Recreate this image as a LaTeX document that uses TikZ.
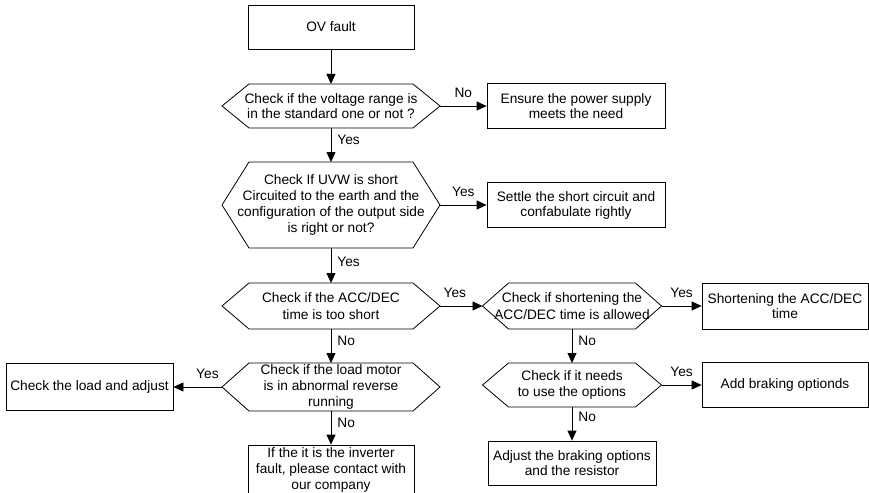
\documentclass[tikz,border=0pt]{standalone}
\usepackage{fontspec}
\setmainfont{Liberation Sans}
\usetikzlibrary{arrows.meta, calc, positioning}
% hexagon round a text node: node, half width, half height, tip depth
\newcommand{\hexa}[4]{%
  \draw[hexline] ($(#1.center)+(-#2,-#3)$) -- ++(2*#2,0) -- ++(#4,#3) coordinate (#1-r)
    -- ++(-#4,#3) -- ++(-2*#2,0) -- ++(-#4,-#3) coordinate (#1-l) -- cycle;
  \coordinate (#1-t) at ($(#1.center)+(0,-#3)$);
  \coordinate (#1-b) at ($(#1.center)+(0,#3)$);
}

\begin{document}
\begin{tikzpicture}[
    x=1pt, y=-1pt,
    every node/.style={font=\fontsize{13.7}{15}\selectfont},
    tall/.style={font=\fontsize{13.7}{16.2}\selectfont},
    box/.style={draw, line width=0.8pt, minimum width=166pt, minimum height=45pt,
                inner sep=2pt, align=center},
    ques/.style={inner sep=0pt, align=center},
    hexline/.style={line width=0.8pt},
    lbl/.style={inner sep=2pt},
    arr/.style={-{Triangle[length=10pt,width=9pt]}, line width=0.8pt},
]
    \useasboundingbox (0,0) rectangle (869,492);

    % main column
    \node[box, minimum height=44pt] (ov) at (331, 27) {OV fault};
    \node[ques] (q1) at (331, 106) {Check if the voltage range is\\in the standard one or not ?};
    \hexa{q1}{82}{22}{27}
    \node[ques, tall] (q2) at (331, 205) {Check If UVW is short\\Circuited to the earth and the\\configuration of the output side\\is right or not?};
    \hexa{q2}{82}{43}{27}
    \node[ques, tall] (q3) at (331, 306) {Check if the ACC/DEC\\time is too short};
    \hexa{q3}{82}{23}{27}
    \node[ques, tall] (q5) at (331, 387) {Check if the load motor\\is in abnormal reverse\\running};
    \hexa{q5}{82}{24}{27}
    \node[box, tall, inner sep=0pt, minimum height=50pt] (contact) at (331, 470) {If the it is the inverter\\fault, please contact with\\our company};

    % right branches
    \node[box, minimum width=178pt] (ensure) at (576, 106) {Ensure the power supply\\meets the need};
    \node[box, minimum width=178pt] (settle) at (576, 205) {Settle the short circuit and\\confabulate rightly};
    \node[ques, tall] (q4) at (572, 306) {Check if shortening the\\ACC/DEC time is allowed};
    \hexa{q4}{63.5}{23}{26}
    \node[ques, tall] (q6) at (572, 385) {Check if it needs\\to use the options};
    \hexa{q6}{63.5}{22}{26}
    \node[box, minimum width=168pt, minimum height=44pt] (resist) at (572, 463) {Adjust the braking options\\and the resistor};
    \node[box, minimum height=46pt] (shorten) at (785, 306) {Shortening the ACC/DEC\\time};
    \node[box] (brake) at (785, 385) {Add braking optionds};

    % left branch
    \node[box, minimum width=167pt, minimum height=47pt] (loadadj) at (89.5, 387) {Check the load and adjust};

    % connectors
    \draw[arr] (ov.south) -- (q1-t);
    \draw[arr] (q1-r) -- node[lbl, above=6pt] {No} (ensure.west);
    \draw[arr] (q1-b) -- node[lbl, right=4pt, pos=0.35] {Yes} (q2-t);
    \draw[arr] (q2-r) -- node[lbl, above=6pt] {Yes} (settle.west);
    \draw[arr] (q2-b) -- node[lbl, right=4pt, pos=0.4] {Yes} (q3-t);
    \draw[arr] (q3-r) -- node[lbl, above=6pt, pos=0.35] {Yes} (q4-l);
    \draw[arr] (q3-b) -- node[lbl, right=4pt, pos=0.35] {No} (q5-t);
    \draw[arr] (q5-l) -- node[lbl, above=6pt, pos=0.3] {Yes} (loadadj.east);
    \draw[arr] (q5-b) -- node[lbl, right=4pt, pos=0.35] {No} (contact.north);
    \draw[arr] (q4-r) -- node[lbl, above=6pt] {Yes} (shorten.west);
    \draw[arr] (q4-b) -- node[lbl, right=4pt, pos=0.35] {No} (q6-t);
    \draw[arr] (q6-r) -- node[lbl, above=6pt] {Yes} (brake.west);
    \draw[arr] (q6-b) -- node[lbl, right=4pt, pos=0.3] {No} (resist.north);
\end{tikzpicture}
\end{document}
